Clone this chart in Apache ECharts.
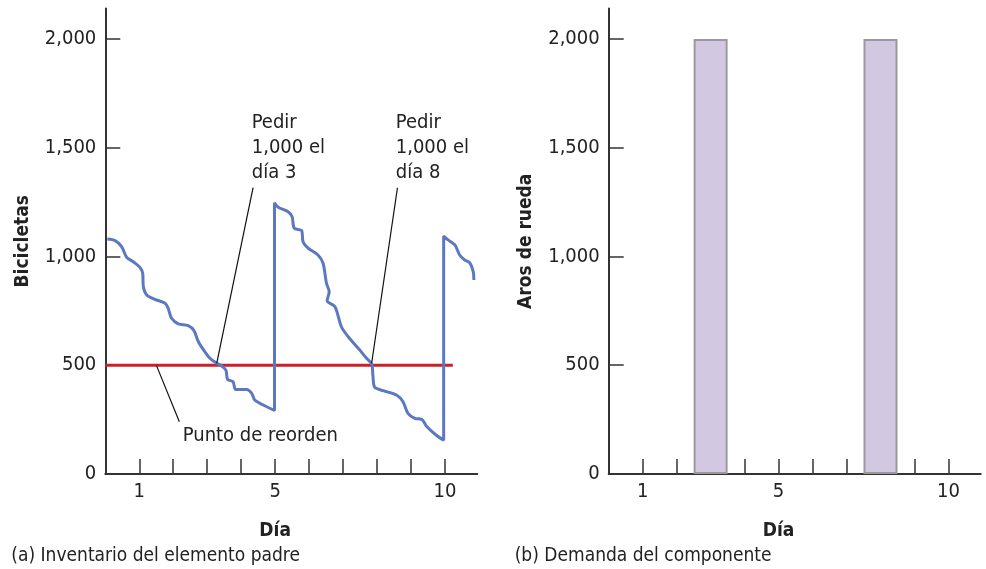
<!DOCTYPE html>
<html>
<head>
<meta charset="utf-8">
<script src="https://cdn.jsdelivr.net/npm/echarts@6/dist/echarts.min.js"></script>
<style>
html,body{margin:0;padding:0;background:#fff;}
#c{width:986px;height:569px;}
</style>
</head>
<body>
<div id="c"></div>
<script>
// ---- Data ----
const invDays = [0.06,0.29,0.48,0.63,0.82,1.02,1.10,1.12,1.22,1.46,1.76,1.85,1.95,2.15,2.44,2.61,2.74,2.93,3.08,3.28,3.42,3.55,3.60,3.76,3.84,4.16,4.31,4.40,4.65,4.98,
                 4.98,5.09,5.38,5.50,5.56,5.78,5.82,5.97,6.26,6.41,6.51,6.59,6.53,6.76,6.95,7.15,7.49,7.69,7.84,7.88,7.93,8.18,8.57,8.76,8.91,9.11,9.32,9.45,9.70,9.96,
                 9.96,10.09,10.29,10.43,10.58,10.73,10.83,10.85];
const invValues = [1080,1073,1045,996,976,950,923,861,823,803,785,762,716,690,682,659,608,562,532,509,498,478,435,424,389,389,371,340,317,292,
                   1247,1226,1206,1183,1130,1119,1068,1038,1007,969,877,838,797,769,677,631,570,532,506,447,399,383,363,333,279,256,251,221,184,155,
                   1094,1076,1053,1007,984,971,930,892];
const reorderDays = [0, 10.23];
const reorderValues = [500, 500];
const demandDays = [3, 8];
const demandValues = [2000, 2000];
const yTicks = [500, 1000, 1500, 2000];
const yLabels = [0, 500, 1000, 1500, 2000];
const xTicks = [1,2,3,4,5,6,7,8,9,10];
const xLabels = [1, 5, 10];
// annotations: [text, day, value of top edge]
const leftNotes = [
  ['Pedir\n1,000 el\ndía 3', 4.31, 1673],
  ['Pedir\n1,000 el\ndía 8', 8.55, 1673],
  ['Punto de reorden', 2.28, 232]
];
const leaderLines = [
  [[4.35, 1316], [3.28, 509]],
  [[8.60, 1316], [7.84, 509]],
  [[1.51, 497], [2.18, 240]]
];
const titles = ['(a) Inventario del elemento padre', '(b) Demanda del componente'];
const xName = 'Día';
const yNames = ['Bicicletas', 'Aros de rueda'];

// ---- Chart ----
const FONT = '"Liberation Sans Narrow", "DejaVu Sans Condensed", "Liberation Sans", sans-serif';
const chart = echarts.init(document.getElementById('c'), null, {renderer: 'canvas'});
const fmt = v => String(v).replace(/\B(?=(\d{3})+(?!\d))/g, ',');
const YMAX = 2140, XMAX = 10.95;

function xAxisDef(gi) {
  return {
    type: 'value', gridIndex: gi, min: 0, max: XMAX,
    axisLine: {lineStyle: {color: '#333', width: 2}},
    axisTick: {inside: true, length: 15, customValues: xTicks, lineStyle: {color: '#333', width: 1.5}},
    axisLabel: {customValues: xLabels, color: '#222', fontFamily: FONT, fontSize: 20, margin: 8},
    splitLine: {show: false}
  };
}
function yAxisDef(gi) {
  return {
    type: 'value', gridIndex: gi, min: 0, max: YMAX,
    name: yNames[gi], nameLocation: 'middle', nameRotate: 90, nameGap: 73,
    nameTextStyle: {fontFamily: FONT, fontWeight: 'bold', fontSize: 19, color: '#222'},
    axisLine: {show: true, lineStyle: {color: '#333', width: 2}},
    axisTick: {show: true, inside: true, length: 15, customValues: yTicks, lineStyle: {color: '#333', width: 1.5}},
    axisLabel: {customValues: yLabels, formatter: fmt, color: '#222', fontFamily: FONT, fontSize: 20, margin: 9},
    splitLine: {show: false}
  };
}

const option = {
  animation: false,
  grid: [
    {left: 105.3, width: 372, top: 8.5, height: 465.5},
    {left: 608.7, width: 372, top: 8.5, height: 465.5}
  ],
  xAxis: [xAxisDef(0), xAxisDef(1)],
  yAxis: [yAxisDef(0), yAxisDef(1)],
  series: [
    {
      type: 'line', xAxisIndex: 0, yAxisIndex: 0,
      data: reorderDays.map((d, i) => [d, reorderValues[i]]),
      symbol: 'none', lineStyle: {color: '#cc1f2a', width: 3}, z: 2
    },
    {
      type: 'line', xAxisIndex: 0, yAxisIndex: 0,
      data: invDays.map((d, i) => [d, invValues[i]]),
      symbol: 'none', smooth: 0.3, lineStyle: {color: '#5b78c0', width: 3}, z: 3,
      markLine: {
        silent: true, symbol: ['none', 'none'], label: {show: false},
        lineStyle: {color: '#111', width: 1.2, type: 'solid'},
        data: leaderLines.map(l => [{coord: l[0]}, {coord: l[1]}])
      }
    },
    {
      type: 'bar', xAxisIndex: 1, yAxisIndex: 1,
      data: demandDays.map((d, i) => [d, demandValues[i]]),
      barWidth: 34,
      itemStyle: {color: '#d2c8e2', borderColor: '#9a99a0', borderWidth: 2}
    }
  ]
};
chart.setOption(option);

function buildGraphics() {
  const g = [];
  leftNotes.forEach(n => {
    const p = chart.convertToPixel({gridIndex: 0}, [n[1], n[2]]);
    g.push({type: 'text', x: p[0], y: p[1], style: {
      text: n[0], font: '20px ' + FONT, fill: '#222', lineHeight: 25,
      textAlign: 'left', textVerticalAlign: 'top'}});
  });
  [0, 1].forEach(gi => {
    const p = chart.convertToPixel({gridIndex: gi}, [5, 0]);
    g.push({type: 'text', x: p[0], y: p[1] + 57, style: {
      text: xName, font: 'bold 19px ' + FONT, fill: '#222', textAlign: 'center', textVerticalAlign: 'middle'}});
    const q = chart.convertToPixel({gridIndex: gi}, [0, 0]);
    g.push({type: 'text', x: q[0] - 94, y: p[1] + 82, style: {
      text: titles[gi], font: '19px ' + FONT, fill: '#222', textAlign: 'left', textVerticalAlign: 'middle'}});
  });
  chart.setOption({graphic: g});
}
buildGraphics();
</script>
</body>
</html>
